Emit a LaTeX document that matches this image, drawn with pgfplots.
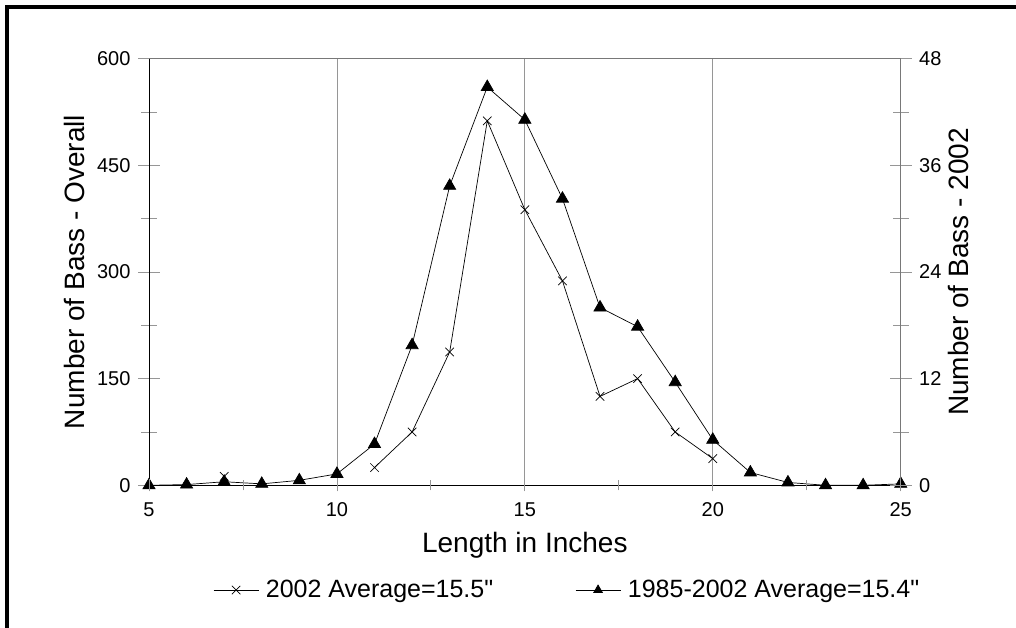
\documentclass[border=0pt]{standalone}
\usepackage{pgfplots}
\pgfplotsset{compat=1.18}
\usepackage{fontspec}
\setmainfont{Liberation Sans}[Ligatures=TeXOff]
\definecolor{tickgray}{RGB}{150,150,150}
\definecolor{spinegray}{RGB}{120,120,120}

% overall catch by length, 1985-2002 (left axis)
\pgfplotstableread{
len  n
5    0
6    1
7    5
8    2
9    7
10   16
11   58
12   197
13   421
14   560
15   514
16   403
17   250
18   223
19   145
20   64
21   18
22   4
23   0
24   0
25   2
}\overall

% 2002 catch by length (right axis)
\pgfplotstableread{
len  n
7    1
8    nan
11   2
12   6
13   15
14   41
15   31
16   23
17   10
18   12
19   6
20   3
}\yeartwo

\pgfplotsset{
  base/.style={
    scale only axis, width=751.7pt, height=426.7pt,
    at={(149pt,142.7pt)}, anchor=south west,
    xmin=5, xmax=25,
    /pgf/number format/assume math mode=true,
    tick label style={font=\fontsize{20}{23}\selectfont},
    label style={font=\fontsize{28}{31}\selectfont},
    tick align=center,
    every tick/.style={tickgray, line width=0.8pt},
  },
}

\begin{document}
\begin{tikzpicture}[x=1pt,y=1pt]
\useasboundingbox (0,0) rectangle (1016,628);
\draw[line width=3.5pt] (7,0) -- (7,621) -- (1016,621);

% left axis, overall series
\begin{axis}[base,
  ymin=0, ymax=600,
  axis x line*=bottom, axis y line*=left,
  axis line style={black, line width=0.9pt},
  xtick={5,10,...,25}, xticklabels={5,10,15,20,25},
  xtick style={draw=none},
  xmajorgrids, grid style={tickgray, line width=0.8pt},
  ytick={0,150,...,600}, minor ytick={75,225,375,525},
  major tick length=22pt, minor tick length=16pt,
  xticklabel style={yshift=-3pt},
  yticklabel style={xshift=-4pt},
  xlabel={Length in Inches},
  ylabel={Number of Bass - Overall},
  xlabel style={at={(axis description cs:0.5,-0.140)}, anchor=center},
  ylabel style={at={(axis description cs:-0.0995,0.5)}, anchor=center},
]
\addplot[black, line width=0.7pt, mark=triangle*, mark size=7pt,
  mark options={solid, fill=black}] table[x=len, y=n] {\overall};
\end{axis}

% right axis, 2002 series
\begin{axis}[base,
  ymin=0, ymax=48,
  axis x line*=top, axis y line*=right,
  axis line style={spinegray, line width=0.9pt},
  xtick=\empty,
  ytick={0,12,...,48}, minor ytick={6,18,30,42},
  major tick length=22pt, minor tick length=16pt,
  yticklabel style={xshift=4pt},
  ylabel={Number of Bass - 2002},
  ylabel style={at={(axis description cs:1.0775,0.5)}, anchor=center},
  unbounded coords=jump,
  legend columns=2,
  legend style={at={(axis description cs:0.0851,-0.2454)}, anchor=west,
    draw=none, fill=none, inner sep=0pt,
    font=\fontsize{25}{28}\selectfont,
    /tikz/every even column/.append style={column sep=80pt}},
  legend image code/.code={
    \draw[mark repeat=2, mark phase=2, #1]
      plot coordinates {(0pt,0pt) (22.5pt,0pt) (45pt,0pt)};
    \path (50pt,0pt);},
]
\addplot[black, line width=0.7pt, mark=x, mark size=6pt,
  mark options={solid}] table[x=len, y=n] {\yeartwo};
\addlegendentry{2002 Average=15.5"}
\addlegendimage{black, line width=0.7pt, mark=triangle*, mark size=5pt,
  mark options={solid, fill=black}}
\addlegendentry{1985-2002 Average=15.4"}
\end{axis}

% short x ticks
\begin{axis}[base,
  ymin=0, ymax=1, hide y axis,
  axis x line*=bottom, axis line style={draw=none},
  xtick={5,10,...,25}, minor xtick={7.5,12.5,17.5,22.5},
  xticklabels={}, major tick length=12pt, minor tick length=10pt,
]
\end{axis}
\end{tikzpicture}
\end{document}
